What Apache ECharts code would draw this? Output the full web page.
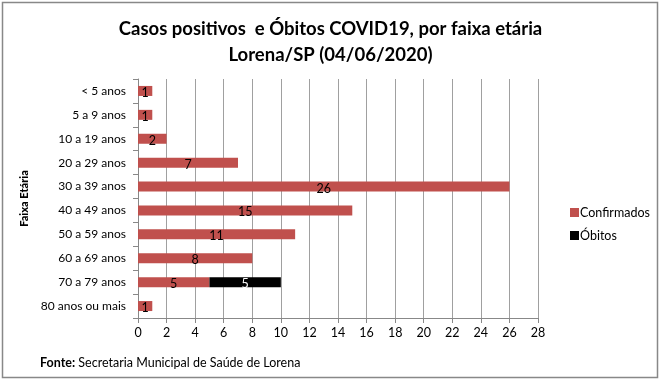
<!DOCTYPE html>
<html><head><meta charset="utf-8">
<script src="https://cdn.jsdelivr.net/npm/echarts@6/dist/echarts.min.js"></script>
<style>html,body{margin:0;padding:0;background:#fff}#c{width:661px;height:381px}</style>
</head><body><div id="c"></div>
<script>
const categories = ["< 5 anos","5 a 9 anos","10 a 19 anos","20 a 29 anos","30 a 39 anos","40 a 49 anos","50 a 59 anos","60 a 69 anos","70 a 79 anos","80 anos ou mais"];
const confirmados = [1,1,2,7,26,15,11,8,5,1];
const obitos = [0,0,0,0,0,0,0,0,5,0];
const seriesNames = ["Confirmados","Óbitos"];
const titleText = "Casos positivos  e Óbitos COVID19, por faixa etária\nLorena/SP (04/06/2020)";
const FONT = "Lato";
const chart = echarts.init(document.getElementById('c'));
chart.setOption({
  animation:false,
  textStyle:{fontFamily:FONT},
  title:{text:titleText,left:'center',top:11,textStyle:{fontFamily:FONT,fontSize:18.5,fontWeight:'bold',color:'#000',lineHeight:26}},
  legend:{orient:'vertical',left:565,top:201,itemWidth:9,itemHeight:9,itemGap:10,icon:'rect',
    textStyle:{fontFamily:FONT,fontSize:12.5,color:'#000',padding:[0,0,0,-4]},data:seriesNames},
  grid:{left:138,right:123,top:79,bottom:63,containLabel:false},
  xAxis:{type:'value',min:0,max:28,interval:2,
    axisLine:{show:true,lineStyle:{color:'#888'}},
    axisTick:{show:true,length:5,lineStyle:{color:'#888'}},
    axisLabel:{color:'#000',fontSize:12.5,margin:8,fontFamily:FONT},
    splitLine:{show:true,lineStyle:{color:'#a0a0a0'}}},
  yAxis:{type:'category',data:categories,inverse:true,
    name:'Faixa Etária',nameLocation:'middle',nameGap:103,nameRotate:90,
    nameTextStyle:{fontFamily:FONT,fontSize:11,fontWeight:900,color:'#000'},
    axisLine:{show:true,lineStyle:{color:'#888'}},
    axisTick:{show:true,length:5,lineStyle:{color:'#888'}},
    axisLabel:{color:'#000',fontSize:12,margin:12,fontFamily:FONT}},
  series:[
    {name:seriesNames[0],type:'bar',stack:'a',data:confirmados,barWidth:10,
      itemStyle:{color:'#C0504D'},
      label:{show:true,position:'inside',color:'#000',fontSize:12.5,offset:[0,2],fontFamily:FONT,
        formatter:p=>p.value?String(p.value):''}},
    {name:seriesNames[1],type:'bar',stack:'a',data:obitos,barWidth:10,
      itemStyle:{color:'#000'},
      label:{show:true,position:'inside',color:'#fff',fontSize:12.5,offset:[0,2],fontFamily:FONT,
        formatter:p=>p.value?String(p.value):''}}
  ],
  graphic:[
    {type:'rect',shape:{x:2.5,y:2.5,width:655,height:375},style:{fill:'none',stroke:'#888',lineWidth:1.5},silent:true},
    {type:'text',left:40,top:356,style:{text:'{b|Fonte:} Secretaria Municipal de Saúde de Lorena',
      rich:{b:{fontWeight:'bold',fontSize:12.5,fontFamily:FONT,fill:'#000'}},
      fontSize:12.5,fontFamily:FONT,fill:'#000'}}
  ]
});
</script></body></html>
